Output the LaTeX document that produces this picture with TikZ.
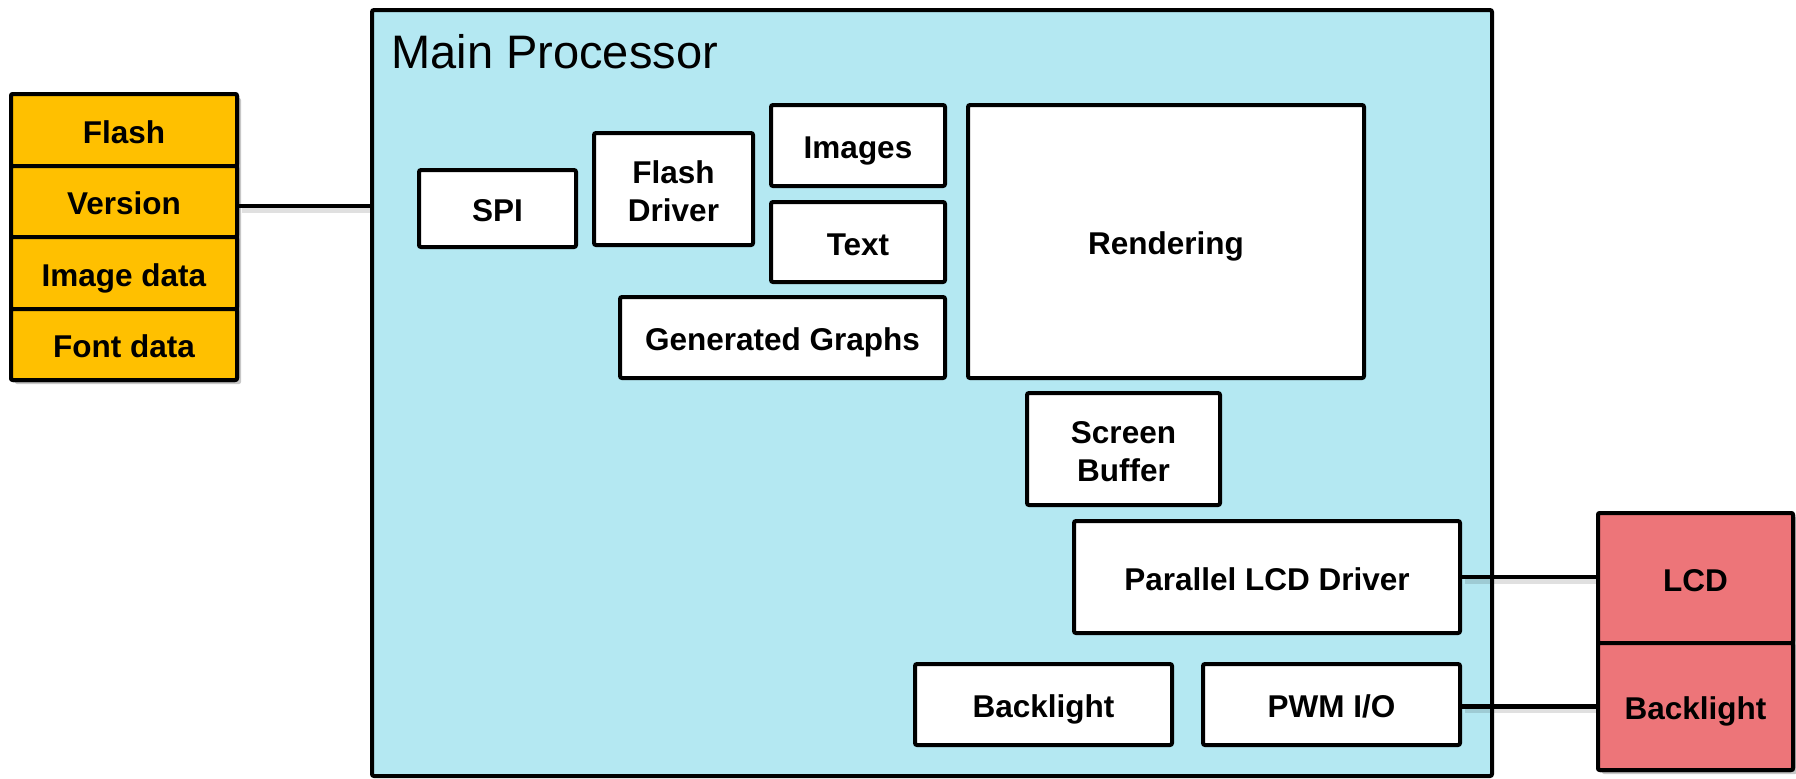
\documentclass[tikz,border=0pt]{standalone}
\usepackage{fontspec}
\setmainfont{Liberation Sans}
\usetikzlibrary{shadows,calc}

\definecolor{procblue}{RGB}{180,232,242}
\definecolor{flashorange}{RGB}{255,192,0}
\definecolor{lcdred}{RGB}{237,117,121}

% block caption: lines set on struts, with extra room above so the text sits a little low
\newcommand\blktext[1]{\raisebox{0pt}[\dimexpr\height+5.8pt\relax][\depth]{\begin{tabular}{@{}c@{}}#1\end{tabular}}}

\tikzset{
  x=0.5pt, y=-0.5pt,
  blk/.style={draw=black, line width=2pt, rounded corners=1pt, inner sep=0pt,
    font=\fontsize{15.75}{19}\selectfont\bfseries},
  unit/.style={blk, fill=white},
  flashpart/.style={blk, fill=flashorange, minimum width=113pt},
  lcdpart/.style={blk, fill=lcdred, minimum width=97.5pt},
  shade/.style={drop shadow={shadow xshift=2pt, shadow yshift=-2pt, fill=black, opacity=0.22}},
  wire/.style={draw=black, line width=2.3pt},
  wireshade/.style={draw=black, line width=2.5pt, opacity=0.12},
}

\begin{document}
\begin{tikzpicture}
\useasboundingbox (0,0) rectangle (1796,778);

% processor outline
\node[blk, fill=procblue, minimum width=560pt, minimum height=383pt] (main) at (932,393) {};
\node[anchor=west, inner sep=0pt, font=\fontsize{23.5}{28}\selectfont] (title) at (391,52) {Main Processor};

% external flash memory
\node[flashpart, shade, minimum height=143pt] (flashbg) at (124,237) {};
\node[flashpart, minimum height=36pt] (flash) at (124,130) {\blktext{Flash}};
\node[flashpart, minimum height=35.5pt] (version) at (124,201.5) {\blktext{Version}};
\node[flashpart, minimum height=36pt] (imgdata) at (124,273) {\blktext{Image data}};
\node[flashpart, minimum height=35.5pt] (fontdata) at (124,344.5) {\blktext{Font data}};

% external display
\node[lcdpart, shade, minimum height=128.5pt] (lcdbg) at (1695.5,641.5) {};
\node[lcdpart, minimum height=65pt] (lcd) at (1695.5,578) {\blktext{LCD}};
\node[lcdpart, minimum height=63.5pt] (blr) at (1695.5,706.5) {\blktext{Backlight}};

% firmware blocks
\node[unit, minimum width=78.5pt, minimum height=38.5pt] (spi) at (497.5,208.5) {\blktext{SPI}};
\node[unit, minimum width=79.5pt, minimum height=56pt] (fdrv) at (673.5,189) {\blktext{Flash\\Driver}};
\node[unit, minimum width=87pt, minimum height=40.5pt] (images) at (858,145.5) {\blktext{Images}};
\node[unit, minimum width=87pt, minimum height=40pt] (text) at (858,242) {\blktext{Text}};
\node[unit, minimum width=162.5pt, minimum height=40.5pt] (gg) at (782.5,337.5) {\blktext{Generated Graphs}};
\node[unit, minimum width=198pt, minimum height=136.5pt] (rend) at (1166,241.5) {\blktext{Rendering}};
\node[unit, minimum width=96.5pt, minimum height=56pt] (sbuf) at (1123.5,449) {\blktext{Screen\\Buffer}};
\node[unit, minimum width=193pt, minimum height=56pt] (plcd) at (1267,577) {\blktext{Parallel LCD Driver}};
\node[unit, minimum width=128.5pt, minimum height=40.5pt] (bl) at (1043.5,704.5) {\blktext{Backlight}};
\node[unit, minimum width=128.5pt, minimum height=40.5pt] (pwm) at (1331.5,704.5) {\blktext{PWM I/O}};

% connections
\coordinate (vin) at ($(version.east)+(0,4.5)$);
\coordinate (pout) at ($(pwm.east)+(0,2)$);
\draw[wireshade] ($(vin)+(3,4)$) -- ($(vin -| main.west)+(3,4)$);
\draw[wireshade] ($(plcd.east)+(3,4)$) -- ($(plcd.east -| lcd.west)+(0,4)$);
\draw[wireshade] ($(pout)+(3,4)$) -- ($(pout -| blr.west)+(0,4)$);
\draw[wire] (vin) -- (vin -| main.west);
\draw[wire] (plcd.east) -- (plcd.east -| lcd.west);
\draw[wire] (pout) -- (pout -| blr.west);
\end{tikzpicture}
\end{document}
